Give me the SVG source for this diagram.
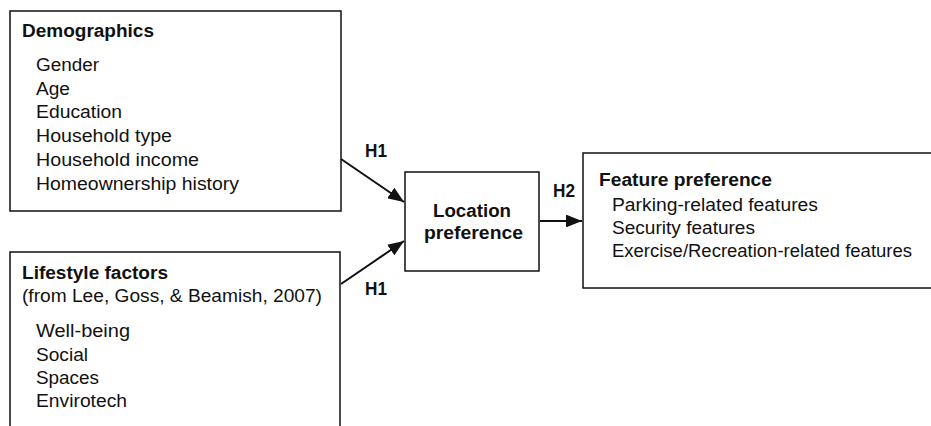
<svg xmlns="http://www.w3.org/2000/svg" width="931" height="426" viewBox="0 0 931 426">
<style>
  .box { fill: #fff; stroke: #111; stroke-width: 1.5; }
  text { font-family: "Liberation Sans", Arial, sans-serif; fill: #111; }
  .t { font-size: 18px; font-weight: bold; }
  .i { font-size: 17.5px; }
  .lbl { font-size: 18px; font-weight: bold; }
  .conn { stroke: #111; stroke-width: 2; fill: none; marker-end: url(#arr); }
</style>
<defs>
  <marker id="arr" viewBox="0 0 10 8" refX="10" refY="4" markerWidth="8" markerHeight="6.4" markerUnits="strokeWidth" orient="auto">
    <path d="M0,0 L10,4 L0,8 Z" fill="#111"/>
  </marker>
</defs>
<rect width="931" height="426" fill="#fff"/>
<g id="demographics">
  <rect class="box" x="10" y="11" width="331" height="200"/>
  <text class="t" x="22" y="37" textLength="132" lengthAdjust="spacingAndGlyphs">Demographics</text>
  <text class="i" x="36" y="71" textLength="63" lengthAdjust="spacingAndGlyphs">Gender</text>
  <text class="i" x="36" y="95" textLength="34" lengthAdjust="spacingAndGlyphs">Age</text>
  <text class="i" x="36" y="118" textLength="86" lengthAdjust="spacingAndGlyphs">Education</text>
  <text class="i" x="36" y="142" textLength="136" lengthAdjust="spacingAndGlyphs">Household type</text>
  <text class="i" x="36" y="166" textLength="163" lengthAdjust="spacingAndGlyphs">Household income</text>
  <text class="i" x="36" y="190" textLength="203" lengthAdjust="spacingAndGlyphs">Homeownership history</text>
</g>
<g id="lifestyle">
  <rect class="box" x="10" y="252" width="330" height="190"/>
  <text class="t" x="22" y="279" textLength="146" lengthAdjust="spacingAndGlyphs">Lifestyle factors</text>
  <text class="i" x="22" y="302" textLength="300" lengthAdjust="spacingAndGlyphs">(from Lee, Goss, &amp; Beamish, 2007)</text>
  <text class="i" x="36" y="337" textLength="94" lengthAdjust="spacingAndGlyphs">Well-being</text>
  <text class="i" x="36" y="361" textLength="52" lengthAdjust="spacingAndGlyphs">Social</text>
  <text class="i" x="36" y="384" textLength="63" lengthAdjust="spacingAndGlyphs">Spaces</text>
  <text class="i" x="36" y="407" textLength="91" lengthAdjust="spacingAndGlyphs">Envirotech</text>
</g>
<g id="location">
  <rect class="box" x="405" y="172" width="134" height="99"/>
  <text class="t" x="433" y="217" textLength="78" lengthAdjust="spacingAndGlyphs">Location</text>
  <text class="t" x="424" y="239" textLength="99" lengthAdjust="spacingAndGlyphs">preference</text>
</g>
<g id="feature">
  <rect class="box" x="583" y="153" width="360" height="135"/>
  <text class="t" x="599" y="186" textLength="173" lengthAdjust="spacingAndGlyphs">Feature preference</text>
  <text class="i" x="612" y="211" textLength="206" lengthAdjust="spacingAndGlyphs">Parking-related features</text>
  <text class="i" x="612" y="234" textLength="143" lengthAdjust="spacingAndGlyphs">Security features</text>
  <text class="i" x="612" y="257" textLength="300" lengthAdjust="spacingAndGlyphs">Exercise/Recreation-related features</text>
</g>
<g id="connectors">
  <line class="conn" x1="341" y1="159" x2="404" y2="202"/>
  <line class="conn" x1="341" y1="284" x2="404" y2="241"/>
  <line class="conn" x1="540" y1="221" x2="582" y2="221"/>
  <text class="lbl" x="365" y="157" textLength="22" lengthAdjust="spacingAndGlyphs">H1</text>
  <text class="lbl" x="365" y="295" textLength="22" lengthAdjust="spacingAndGlyphs">H1</text>
  <text class="lbl" x="553" y="197" textLength="22" lengthAdjust="spacingAndGlyphs">H2</text>
</g>
</svg>
